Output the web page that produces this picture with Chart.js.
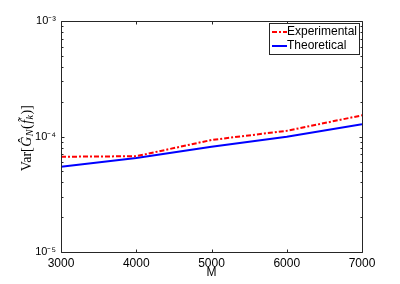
<!DOCTYPE html>
<html>
<head>
<meta charset="utf-8">
<script src="https://cdn.jsdelivr.net/npm/chart.js@4/dist/chart.umd.min.js"></script>
<style>
  html, body { margin: 0; padding: 0; background: #fff; }
  #wrap { width: 400px; height: 284px; position: relative; }
</style>
</head>
<body>
<div id="wrap"><canvas id="c" width="400" height="284"></canvas></div>
<script>
// ---- data ----
const M = [3000, 4000, 5000, 6000, 7000];
const experimental = [6.68e-5, 6.75e-5, 9.33e-5, 1.12e-4, 1.525e-4];
const theoretical = [5.48e-5, 6.51e-5, 8.16e-5, 9.96e-5, 1.274e-4];
const seriesNames = ['Experimental', 'Theoretical'];
const xTicks = [3000, 4000, 5000, 6000, 7000];
const yDecades = [-5, -4, -3];

const sup = { '-': '\u207B', '0': '\u2070', '1': '\u00B9', '2': '\u00B2', '3': '\u00B3', '4': '\u2074', '5': '\u2075', '6': '\u2076', '7': '\u2077', '8': '\u2078', '9': '\u2079' };
function supStr(n) { return String(n).split('').map(c => sup[c] || c).join(''); }

const yTickValues = [];
for (let i = 0; i < yDecades.length; i++) {
  const d = yDecades[i];
  if (i === yDecades.length - 1) { yTickValues.push(Math.pow(10, d)); break; }
  for (let k = 1; k <= 9; k++) yTickValues.push(k * Math.pow(10, d));
}

const FONT = "'Liberation Sans', Arial, Helvetica, sans-serif";

const boxPlugin = {
  id: 'boxPlugin',
  afterDraw(chart) {
    const ctx = chart.ctx;
    const a = chart.chartArea;
    const xs = chart.scales.x, ys = chart.scales.y;
    ctx.save();
    ctx.strokeStyle = '#262626';
    ctx.lineWidth = 1;
    const L = Math.round(a.left) + 0.5, R = Math.round(a.right) + 0.5;
    const T = Math.round(a.top) + 0.5, B = Math.round(a.bottom) + 0.5;
    ctx.beginPath();
    ctx.rect(L, T, R - L, B - T);
    // x ticks (inward, top and bottom)
    xTicks.forEach(v => {
      const px = Math.round(xs.getPixelForValue(v)) + 0.5;
      ctx.moveTo(px, B); ctx.lineTo(px, B - 3);
      ctx.moveTo(px, T); ctx.lineTo(px, T + 3);
    });
    // y ticks (inward, left and right)
    yTickValues.forEach(v => {
      const py = Math.round(ys.getPixelForValue(v)) + 0.5;
      const major = Number.isInteger(Math.round(Math.log10(v) * 1e6) / 1e6);
      const len = major ? 3 : 2;
      ctx.moveTo(L, py); ctx.lineTo(L + len, py);
      ctx.moveTo(R, py); ctx.lineTo(R - len, py);
    });
    ctx.stroke();

    // legend
    const lx = 269.5, ly = 23.5, lw = 90, lh = 31;
    ctx.fillStyle = '#fff';
    ctx.fillRect(lx, ly, lw, lh);
    ctx.strokeStyle = '#262626';
    ctx.strokeRect(lx, ly, lw, lh);
    const rows = [
      { name: seriesNames[0], color: '#ff0000', dash: [5, 2, 2, 2] , y: 32 },
      { name: seriesNames[1], color: '#0000ff', dash: [], y: 46 }
    ];
    rows.forEach(r => {
      ctx.beginPath();
      ctx.strokeStyle = r.color;
      ctx.lineWidth = 2;
      ctx.setLineDash(r.dash);
      ctx.moveTo(272, r.y); ctx.lineTo(287, r.y);
      ctx.stroke();
      ctx.setLineDash([]);
      ctx.fillStyle = '#000';
      ctx.font = '12px ' + FONT;
      ctx.textBaseline = 'middle';
      ctx.textAlign = 'left';
      ctx.fillText(r.name, 287, r.y);
    });

    // y axis label with subscripts
    const serif = "'Liberation Serif', 'DejaVu Serif', serif";
    const parts = [
      { t: 'Var[', f: '14px ' + serif, dy: 0 },
      { t: 'G\u0302', f: 'italic 14px ' + serif, dy: 0 },
      { t: 'N', f: 'italic 10px ' + serif, dy: 3 },
      { t: '(', f: '14px ' + serif, dy: 0 },
      { t: 'f\u0303', f: 'italic 14px ' + serif, dy: 0 },
      { t: 'k', f: 'italic 10px ' + serif, dy: 3 },
      { t: ')]', f: '14px ' + serif, dy: 0 }
    ];
    let w = 0;
    parts.forEach(p => { ctx.font = p.f; p.w = ctx.measureText(p.t).width + 0.5; w += p.w; });
    ctx.translate(27, 138);
    ctx.rotate(-Math.PI / 2);
    ctx.fillStyle = '#000';
    ctx.textBaseline = 'middle';
    ctx.textAlign = 'left';
    let x = -w / 2;
    parts.forEach(p => { ctx.font = p.f; ctx.fillText(p.t, x, p.dy); x += p.w; });
    ctx.restore();
  }
};

new Chart(document.getElementById('c'), {
  type: 'line',
  data: {
    datasets: [
      {
        label: seriesNames[0],
        data: M.map((m, i) => ({ x: m, y: experimental[i] })),
        borderColor: '#ff0000',
        borderWidth: 2,
        borderDash: [5, 2, 2, 2],
        pointRadius: 0,
        fill: false,
        tension: 0
      },
      {
        label: seriesNames[1],
        data: M.map((m, i) => ({ x: m, y: theoretical[i] })),
        borderColor: '#0000ff',
        borderWidth: 2,
        pointRadius: 0,
        fill: false,
        tension: 0
      }
    ]
  },
  options: {
    responsive: false,
    animation: false,
    devicePixelRatio: 1,
    layout: { padding: { left: 0, right: 38, top: 21, bottom: 0 } },
    plugins: { legend: { display: false }, tooltip: { enabled: false } },
    scales: {
      x: {
        type: 'linear',
        min: 3000, max: 7000,
        afterBuildTicks(scale) { scale.ticks = xTicks.map(v => ({ value: v })); },
        afterFit(scale) { scale.height = 32; },
        grid: { display: false, drawTicks: false },
        border: { display: false },
        ticks: { color: '#000', font: { family: FONT, size: 12 }, padding: 4, maxRotation: 0, autoSkip: false,
                 callback: v => String(v) },
        title: { display: true, text: 'M', color: '#000', font: { family: FONT, size: 12 }, padding: { top: 0, bottom: 4 } }
      },
      y: {
        type: 'logarithmic',
        min: 1e-5, max: 1e-3,
        afterBuildTicks(scale) { scale.ticks = yTickValues.map(v => ({ value: v })); },
        afterFit(scale) { scale.width = 61; },
        grid: { display: false, drawTicks: false },
        border: { display: false },
        ticks: {
          color: '#000', font: { family: FONT, size: 11 }, padding: 5, autoSkip: false,
          callback: v => {
            const l = Math.log10(v);
            const r = Math.round(l);
            return Math.abs(l - r) < 1e-6 ? '10' + supStr(r) : '';
          }
        }
      }
    }
  },
  plugins: [boxPlugin]
});
</script>
</body>
</html>
